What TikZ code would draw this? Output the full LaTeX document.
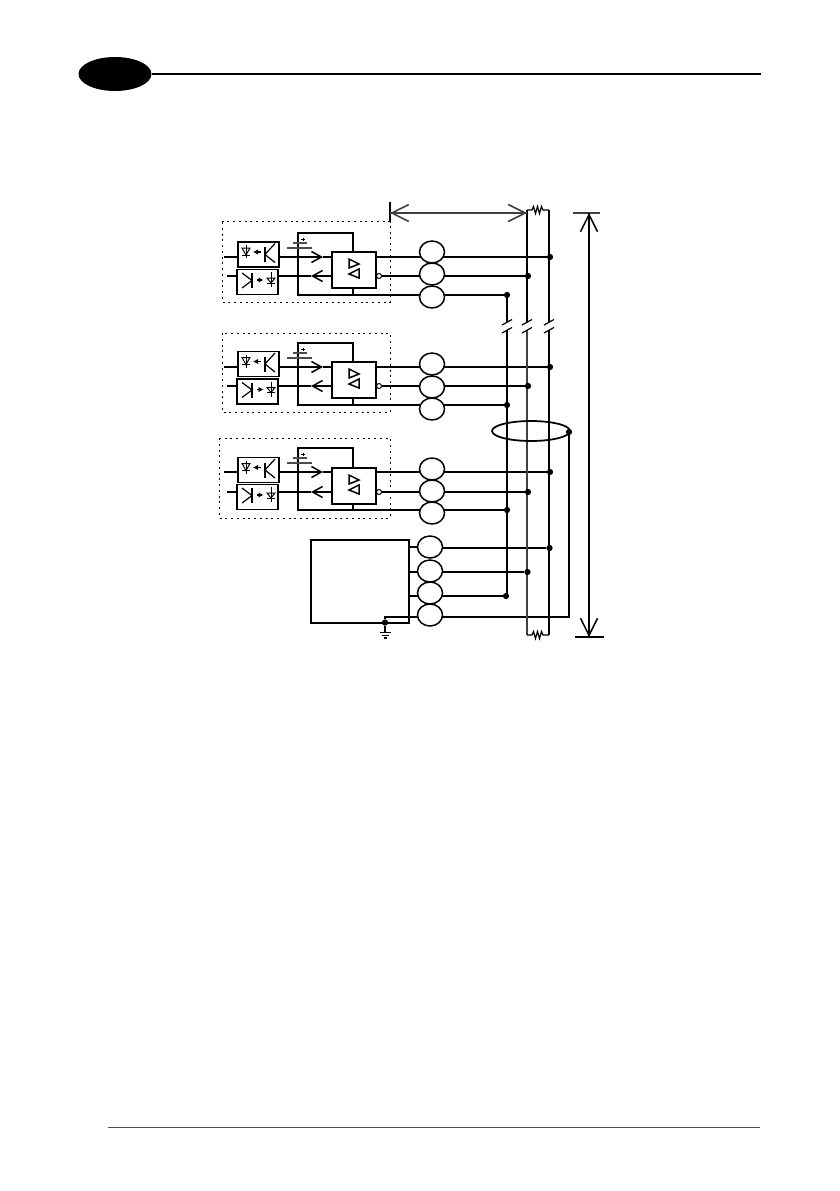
\documentclass[tikz,border=0pt]{standalone}
\usetikzlibrary{positioning,calc,shapes.geometric,arrows.meta,backgrounds}
\tikzset{
    wire/.style={line width=0.3mm, black},
    heavy/.style={line width=0.45mm, black},
    cellbox/.style={rectangle, draw, fill=white, line width=0.3mm, minimum width=0.82cm, minimum height=0.5cm, inner sep=0pt},
    gatebox/.style={rectangle, draw, fill=white, line width=0.3mm, minimum width=0.88cm, minimum height=0.72cm, inner sep=0pt},
    ring/.style={ellipse, draw, fill=white, line width=0.3mm, minimum width=0.5cm, minimum height=0.44cm, inner sep=0pt},
    junction/.style={circle, fill=black, minimum size=1.25mm, inner sep=0pt},
    notdot/.style={circle, draw, fill=white, line width=0.2mm, minimum size=1mm, inner sep=0pt},
    stagebox/.style={line width=0.2mm, dash pattern=on 0.4mm off 0.75mm},
    midtip/.style={-{Straight Barb[length=2mm,width=2.2mm]}},
    longtip/.style={-{Straight Barb[length=3.4mm,width=3.4mm]}},
    pics/ledcell/.style={code={
        \draw[line width=0.2mm] (-12.5,-9.5) -- (-12.5,3.5);
        \draw[line width=0.2mm] (-16.5,-6.5) -- (-8.5,-6.5) -- (-12.5,0.5) -- cycle;
        \draw[line width=0.2mm] (-16.5,0.5) -- (-8.5,0.5);
        \draw[line width=0.24mm, -{Latex[length=1mm,width=1.1mm]}] (2.5,-2.5) -- (-5.5,-2.5);
        \draw[line width=0.3mm] (6.5,-7.5) -- (6.5,7.5);
        \draw[line width=0.24mm] (16.5,-11) -- (6.5,0) -- (16.5,8);
    }},
    pics/sensecell/.style={code={
        \draw[line width=0.3mm] (-5.5,-9) -- (-5.5,6);
        \draw[line width=0.24mm] (-15.5,-9) -- (-5.5,-1.5) -- (-15.5,6);
        \draw[line width=0.24mm, -{Latex[length=1mm,width=1.1mm]}] (-0.5,-2) -- (6,-2);
        \draw[line width=0.2mm] (13.5,-10) -- (13.5,5);
        \draw[line width=0.2mm] (9.5,-4) -- (17.5,-4) -- (13.5,1) -- cycle;
        \draw[line width=0.2mm] (9.5,1) -- (17.5,1);
    }},
    pics/gates/.style={code={
        \draw[line width=0.3mm] (-5,-11) -- (-5,-2) -- (5,-6) -- cycle;
        \draw[line width=0.3mm] (5,-1) -- (5,8) -- (-5,4) -- cycle;
    }},
    pics/resist/.style={code={
        \draw[line width=0.24mm] (0,0) -- (5,0) -- (6.5,-3.5) -- (8.5,3.5) -- (10.5,-3.5) -- (12.5,3.5) -- (14.5,-3.5) -- (16,0) -- (22,0);
    }},
    pics/slash/.style={code={
        \draw[line width=0.24mm] (-5,-1) -- (5,-6.5);
        \draw[line width=0.24mm] (-5,7) -- (5,1.5);
    }}
}

\begin{document}
\begin{tikzpicture}[x=0.2mm, y=-0.2mm]
    \useasboundingbox (0,0) rectangle (839,1191);

    % --- PAGE HEAD AND FOOT ---
    \node[ellipse, fill=black, minimum width=1.46cm, minimum height=0.68cm, inner sep=0pt] (tab) at (115,74) {};
    \coordinate (headend) at (761,74);
    \draw[line width=0.4mm] (tab.east) -- (headend);
    \coordinate (footstart) at (108,1127);
    \coordinate (footend) at (760,1127);
    \draw[line width=0.2mm, black!70] (footstart) -- (footend);

    % --- THE THREE STAGES ---
    \foreach \n/\xleft/\ytop/\ybot/\ya/\yb/\yc/\ra/\rb/\rc/\oa/\ob/\drv/\lp/\lpw in {
        1/222/222/302/257/276/295/252/274/297/254.5/282/270/233/0.45mm,
        2/222/333/412/367/386/405/364/387/409/364/391.5/380/343/0.35mm,
        3/219/438/518/472/492/510/469/491/513/470/497/486/448/0.3mm} {

        \node[cellbox] (led\n) at (258.5,\oa) {};
        \node[cellbox] (sense\n) at (257.5,\ob) {};
        \node[gatebox] (drv\n) at (354,\drv) {};
        \node[ring] (ringa\n) at (432,\ra) {};
        \node[ring] (ringb\n) at (432,\rb) {};
        \node[ring] (ringc\n) at (432,\rc) {};
        \node[notdot] (inv\n) at (379,\yb) {};
        \node[junction] (dotc\n) at (550,\ya) {};
        \node[junction] (dotb\n) at (528,\yb) {};
        \node[junction] (dota\n) at (507,\yc) {};
        \pic at (led\n.center) {ledcell};
        \pic at (sense\n.center) {sensecell};
        \pic at (drv\n.center) {gates};

        \coordinate (ina\n) at (224,\ya);
        \coordinate (inb\n) at (227,\yb);
        \coordinate (tipa\n) at (323,\ya);
        \coordinate (tipb\n) at (311,\yb);

        % battery and its plus sign
        \draw[line width=0.3mm, black!70] (293,\lp+10) -- (307,\lp+10);
        \draw[line width=0.3mm, black!70] (287,\lp+15) -- (312,\lp+15);
        \draw[line width=0.2mm] (301,\lp+6) -- (305,\lp+6) (303,\lp+4.5) -- (303,\lp+7.5);

        \begin{scope}[on background layer]
            \draw[stagebox] (\xleft,\ytop) rectangle (390,\ybot);
            \draw[wire] (ina\n) -- (led\n.west |- ina\n);
            \draw[wire] (inb\n) -- (sense\n.west |- inb\n);
            \draw[wire, midtip] (led\n.east |- tipa\n) -- (tipa\n);
            \draw[wire] (tipa\n) -- (drv\n.west |- tipa\n);
            \draw[wire, midtip] (drv\n.west |- tipb\n) -- (tipb\n);
            \draw[wire] (tipb\n) -- (sense\n.east |- tipb\n);
            \draw[wire] (drv\n.east |- dotc\n) -- (dotc\n);
            \draw[wire] (inv\n) -- (dotb\n);
            \draw[wire] (drv\n.south -| 353,0) -- (353,\yc) -- (dota\n);
            \draw[line width=\lpw] (drv\n.north -| 353,0) -- (353,\lp) -- (298,\lp) -- (298,\yc) -- (353,\yc);
        \end{scope}
    }

    % --- CONTROLLER BLOCK ---
    \node[rectangle, draw, line width=0.27mm, minimum width=1.96cm, minimum height=1.66cm, inner sep=0pt] (master) at (360,581.5) {};
    \node[ring] (ringa4) at (430,547) {};
    \node[ring] (ringb4) at (430,571) {};
    \node[ring] (ringc4) at (430,593) {};
    \node[ring] (ringd4) at (430,615) {};
    \node[junction] (dotc4) at (549.5,548) {};
    \node[junction] (dotb4) at (527.5,572) {};
    \node[junction] (dota4) at (506,596) {};
    \node[junction] (gnddot) at (385,622.5) {};
    \coordinate (tapd) at (385,617);
    \coordinate (shieldcorner) at (569,617);

    % --- GROUND ---
    \coordinate (gnd) at (385,632.5);
    \draw[line width=0.24mm] (380,632.5) -- (391,632.5) (382,635.5) -- (389,635.5) (384,638) -- (387,638);

    % --- SHIELD LOOP ---
    \node[ellipse, draw, line width=0.35mm, minimum width=1.56cm, minimum height=0.4cm, inner sep=0pt] (shield) at (531,431) {};
    \node[junction] (shielddot) at (569,432) {};

    % --- BUS RAILS ---
    \coordinate (railbtop) at (527,210);
    \coordinate (railctop) at (549,210);
    \coordinate (railbbot) at (527,635);
    \coordinate (railcbot) at (549,635);
    \pic at (railbtop) {resist};
    \pic at (railbbot) {resist};
    \foreach \x in {507,527,549} {
        \pic at (\x,326) {slash};
    }

    \begin{scope}[on background layer]
        \draw[wire] (master.east |- ringa4.center) -- (ringa4);
        \draw[wire] (ringa4.east |- dotc4) -- (dotc4);
        \draw[heavy] (master.east |- dotb4) -- (dotb4);
        \draw[wire] (master.east |- dota4) -- (dota4);
        \draw[wire] (gnddot) -- (tapd) -- (shieldcorner) -- (shielddot);
        \draw[wire] (gnddot) -- (gnd);

        \draw[wire] (dota1) -- (507,322);
        \draw[wire] (507,330) -- (507,596);
        \draw[wire] (railbtop) -- (527,322);
        \draw[line width=0.33mm, black!75] (527,330) -- (railbbot);
        \draw[wire] (railctop) -- (549,322);
        \draw[wire] (549,330) -- (railcbot);
    \end{scope}

    % --- SPAN ARROWS ---
    \coordinate (spanleft) at (390,213);
    \coordinate (spanright) at (527,213);
    \draw[line width=0.3mm] (390,202) -- (390,222);
    \draw[line width=0.33mm, black!75, longtip] (spanleft) -- (spanright);
    \draw[line width=0.33mm, black!75, longtip] (spanright) -- (spanleft);

    \coordinate (heighttop) at (589,213);
    \coordinate (heightbot) at (589,637);
    \draw[line width=0.3mm, black!75] (573,213) -- (600,213);
    \draw[line width=0.27mm] (575,637) -- (604,637);
    \draw[wire, longtip] (heighttop) -- (heightbot);
    \draw[wire, longtip] (heightbot) -- (heighttop);

\end{tikzpicture}
\end{document}
